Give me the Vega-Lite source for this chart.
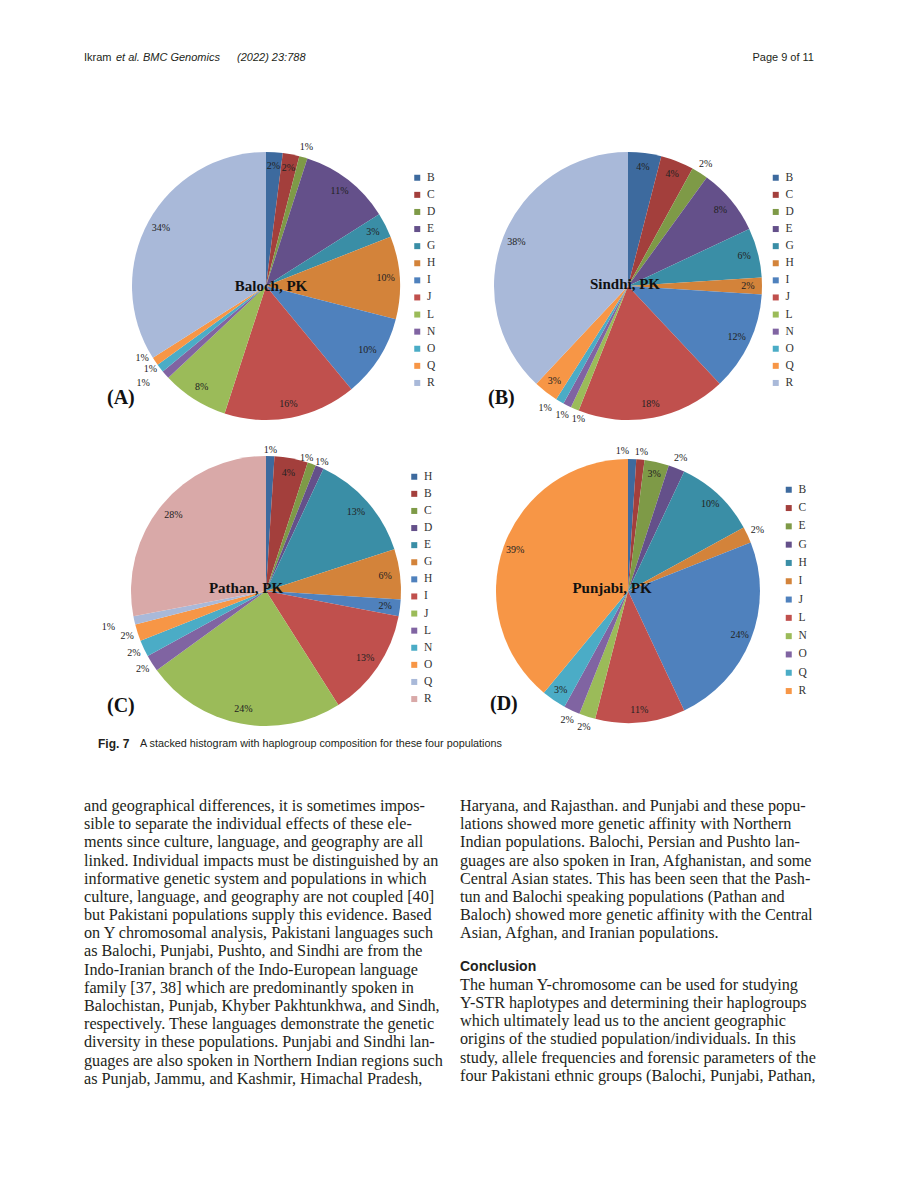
{
  "$schema": "https://vega.github.io/schema/vega-lite/v6.json",
  "background": "white",
  "padding": {"left": 84, "top": 0, "right": 0, "bottom": 0},
  "columns": 2,
  "bounds": "flush",
  "align": "each",
  "spacing": 0,
  "resolve": {"scale": {"color": "independent", "theta": "independent", "x": "independent", "y": "independent"}},
  "config": {
    "view": {"stroke": null},
    "text": {"font": "Liberation Serif", "fontSize": 10, "color": "#222"},
    "legend": {"labelFont": "Liberation Serif", "labelFontSize": 11.5, "labelColor": "#333", "symbolType": "square", "symbolSize": 36, "symbolStrokeWidth": 0, "padding": 0, "labelOffset": 4, "symbolOpacity": 1}
  },
  "datasets": {
    "baloch": [
      {"k": "B", "p": 0.02, "i": 1}, {"k": "C", "p": 0.02, "i": 2}, {"k": "D", "p": 0.01, "i": 3},
      {"k": "E", "p": 0.11, "i": 4}, {"k": "G", "p": 0.03, "i": 5}, {"k": "H", "p": 0.10, "i": 6},
      {"k": "I", "p": 0.10, "i": 7}, {"k": "J", "p": 0.16, "i": 8}, {"k": "L", "p": 0.08, "i": 9},
      {"k": "N", "p": 0.01, "i": 10}, {"k": "O", "p": 0.01, "i": 11}, {"k": "Q", "p": 0.01, "i": 12},
      {"k": "R", "p": 0.34, "i": 13}
    ],
    "sindhi": [
      {"k": "B", "p": 0.04, "i": 1}, {"k": "C", "p": 0.04, "i": 2}, {"k": "D", "p": 0.02, "i": 3},
      {"k": "E", "p": 0.08, "i": 4}, {"k": "G", "p": 0.06, "i": 5}, {"k": "H", "p": 0.02, "i": 6},
      {"k": "I", "p": 0.12, "i": 7}, {"k": "J", "p": 0.18, "i": 8}, {"k": "L", "p": 0.01, "i": 9},
      {"k": "N", "p": 0.01, "i": 10}, {"k": "O", "p": 0.01, "i": 11}, {"k": "Q", "p": 0.03, "i": 12},
      {"k": "R", "p": 0.38, "i": 13}
    ],
    "pathan": [
      {"k": "H1", "p": 0.01, "i": 1}, {"k": "B", "p": 0.04, "i": 2}, {"k": "C", "p": 0.01, "i": 3},
      {"k": "D", "p": 0.01, "i": 4}, {"k": "E", "p": 0.13, "i": 5}, {"k": "G", "p": 0.06, "i": 6},
      {"k": "H2", "p": 0.02, "i": 7}, {"k": "I", "p": 0.13, "i": 8}, {"k": "J", "p": 0.24, "i": 9},
      {"k": "L", "p": 0.02, "i": 10}, {"k": "N", "p": 0.02, "i": 11}, {"k": "O", "p": 0.02, "i": 12},
      {"k": "Q", "p": 0.01, "i": 13}, {"k": "R", "p": 0.28, "i": 14}
    ],
    "punjabi": [
      {"k": "B", "p": 0.01, "i": 1}, {"k": "C", "p": 0.01, "i": 2}, {"k": "E", "p": 0.03, "i": 3},
      {"k": "G", "p": 0.02, "i": 4}, {"k": "H", "p": 0.10, "i": 5}, {"k": "I", "p": 0.02, "i": 6},
      {"k": "J", "p": 0.24, "i": 7}, {"k": "L", "p": 0.11, "i": 8}, {"k": "N", "p": 0.02, "i": 9},
      {"k": "O", "p": 0.02, "i": 10}, {"k": "Q", "p": 0.03, "i": 11}, {"k": "R", "p": 0.39, "i": 12}
    ],
    "bodyL": [
      {"col": "L", "line": 0, "t": "and geographical differences, it is sometimes impos-"},
      {"col": "L", "line": 1, "t": "sible to separate the individual effects of these ele-"},
      {"col": "L", "line": 2, "t": "ments since culture, language, and geography are all"},
      {"col": "L", "line": 3, "t": "linked. Individual impacts must be distinguished by an"},
      {"col": "L", "line": 4, "t": "informative genetic system and populations in which"},
      {"col": "L", "line": 5, "t": "culture, language, and geography are not coupled [40]"},
      {"col": "L", "line": 6, "t": "but Pakistani populations supply this evidence. Based"},
      {"col": "L", "line": 7, "t": "on Y chromosomal analysis, Pakistani languages such"},
      {"col": "L", "line": 8, "t": "as Balochi, Punjabi, Pushto, and Sindhi are from the"},
      {"col": "L", "line": 9, "t": "Indo-Iranian branch of the Indo-European language"},
      {"col": "L", "line": 10, "t": "family [37, 38] which are predominantly spoken in"},
      {"col": "L", "line": 11, "t": "Balochistan, Punjab, Khyber Pakhtunkhwa, and Sindh,"},
      {"col": "L", "line": 12, "t": "respectively. These languages demonstrate the genetic"},
      {"col": "L", "line": 13, "t": "diversity in these populations. Punjabi and Sindhi lan-"},
      {"col": "L", "line": 14, "t": "guages are also spoken in Northern Indian regions such"},
      {"col": "L", "line": 15, "t": "as Punjab, Jammu, and Kashmir, Himachal Pradesh,"}
    ],
    "bodyR": [
      {"col": "R", "line": 0, "t": "Haryana, and Rajasthan. and Punjabi and these popu-"},
      {"col": "R", "line": 1, "t": "lations showed more genetic affinity with Northern"},
      {"col": "R", "line": 2, "t": "Indian populations. Balochi, Persian and Pushto lan-"},
      {"col": "R", "line": 3, "t": "guages are also spoken in Iran, Afghanistan, and some"},
      {"col": "R", "line": 4, "t": "Central Asian states. This has been seen that the Pash-"},
      {"col": "R", "line": 5, "t": "tun and Balochi speaking populations (Pathan and"},
      {"col": "R", "line": 6, "t": "Baloch) showed more genetic affinity with the Central"},
      {"col": "R", "line": 7, "t": "Asian, Afghan, and Iranian populations."}
    ],
    "bodyR2": [
      {"col": "R", "line": 10, "t": "The human Y-chromosome can be used for studying"},
      {"col": "R", "line": 11, "t": "Y-STR haplotypes and determining their haplogroups"},
      {"col": "R", "line": 12, "t": "which ultimately lead us to the ancient geographic"},
      {"col": "R", "line": 13, "t": "origins of the studied population/individuals. In this"},
      {"col": "R", "line": 14, "t": "study, allele frequencies and forensic parameters of the"},
      {"col": "R", "line": 15, "t": "four Pakistani ethnic groups (Balochi, Punjabi, Pathan,"}
    ]
  },
  "concat": [
    {
      "width": 364,
      "height": 116,
      "layer": [
        {
          "data": {"values": [{"col": "L", "t": "Ikram"}]},
          "mark": {"type": "text", "align": "left", "font": "Liberation Sans", "fontSize": 11, "color": "#231f20"},
          "encoding": {
            "x": {"field": "col", "type": "nominal", "scale": {"type": "point", "domain": ["L"], "padding": 0, "align": 0}, "axis": null},
            "text": {"field": "t"}
          }
        },
        {
          "data": {"values": [{"col": "L", "t": "et al. BMC Genomics"}]},
          "mark": {"type": "text", "align": "left", "font": "Liberation Sans", "fontSize": 11, "fontStyle": "italic", "color": "#231f20", "dx": 32},
          "encoding": {
            "x": {"field": "col", "type": "nominal", "scale": {"type": "point", "domain": ["L"], "padding": 0, "align": 0}, "axis": null},
            "text": {"field": "t"}
          }
        },
        {
          "data": {"values": [{"col": "L", "t": "(2022) 23:788"}]},
          "mark": {"type": "text", "align": "left", "font": "Liberation Sans", "fontSize": 11, "fontStyle": "italic", "color": "#231f20", "dx": 153},
          "encoding": {
            "x": {"field": "col", "type": "nominal", "scale": {"type": "point", "domain": ["L"], "padding": 0, "align": 0}, "axis": null},
            "text": {"field": "t"}
          }
        }
      ]
    },
    {
      "width": 360,
      "height": 116,
      "data": {"values": [{"col": "R", "t": "Page 9 of 11"}]},
      "mark": {"type": "text", "align": "right", "font": "Liberation Sans", "fontSize": 11, "color": "#231f20", "dx": 6},
      "encoding": {
        "x": {"field": "col", "type": "nominal", "scale": {"type": "point", "domain": ["R"], "padding": 0, "align": 1}, "axis": null},
        "text": {"field": "t"}
      }
    },
    {
      "width": 364,
      "height": 340,
      "data": {"name": "baloch"},
      "title": {"text": "(A)", "orient": "bottom", "anchor": "start", "frame": "group", "offset": -68, "dx": 23, "baseline": "top", "font": "Liberation Serif", "fontSize": 20, "fontWeight": "bold", "color": "#111"},
      "encoding": {
        "theta": {"field": "p", "type": "quantitative", "stack": true},
        "order": {"field": "i", "type": "quantitative"}
      },
      "layer": [
        {
          "mark": {"type": "arc", "outerRadius": 134},
          "encoding": {
            "color": {"field": "k", "type": "nominal",
              "scale": {"domain": ["B", "C", "D", "E", "G", "H", "I", "J", "L", "N", "O", "Q", "R"],
                "range": ["#3D6A9E", "#A33F3C", "#7E9A47", "#64508A", "#3A8EA6", "#D3833A", "#4F81BD", "#C0504D", "#9BBB59", "#8064A2", "#4BACC6", "#F79646", "#A9B9D9"]},
              "legend": {"title": null, "orient": "none", "legendX": 327.5, "legendY": 56, "rowPadding": 4.1, "labelExpr": "substring(datum.label, 0, 1)"}}
          }
        },
        {
          "mark": {"type": "text", "radius": 120},
          "encoding": {
            "detail": {"field": "k", "type": "nominal"},
            "text": {"field": "p", "type": "quantitative", "format": ".0%"},
            "opacity": {"condition": {"test": "datum.p > 0.015", "value": 1}, "value": 0}
          }
        },
        {
          "mark": {"type": "text", "radius": 145},
          "encoding": {
            "detail": {"field": "k", "type": "nominal"},
            "text": {"field": "p", "type": "quantitative", "format": ".0%"},
            "opacity": {"condition": {"test": "datum.k == 'D'", "value": 1}, "value": 0}
          }
        },
        {
          "mark": {"type": "text", "radius": 145, "dx": -14, "dy": 1},
          "encoding": {
            "detail": {"field": "k", "type": "nominal"},
            "text": {"field": "p", "type": "quantitative", "format": ".0%"},
            "opacity": {"condition": {"test": "datum.k == 'N'", "value": 1}, "value": 0}
          }
        },
        {
          "mark": {"type": "text", "radius": 145, "dx": -1, "dy": -6},
          "encoding": {
            "detail": {"field": "k", "type": "nominal"},
            "text": {"field": "p", "type": "quantitative", "format": ".0%"},
            "opacity": {"condition": {"test": "datum.k == 'O'", "value": 1}, "value": 0}
          }
        },
        {
          "mark": {"type": "text", "radius": 145, "dx": -4, "dy": -10},
          "encoding": {
            "detail": {"field": "k", "type": "nominal"},
            "text": {"field": "p", "type": "quantitative", "format": ".0%"},
            "opacity": {"condition": {"test": "datum.k == 'Q'", "value": 1}, "value": 0}
          }
        },
        {
          "data": {"values": [{"t": "Baloch, PK"}]},
          "mark": {"type": "text", "font": "Liberation Serif", "fontSize": 15, "fontWeight": "bold", "color": "#111", "dx": 5},
          "encoding": {"text": {"field": "t"}, "theta": null, "order": null}
        }
      ]
    },
    {
      "width": 360,
      "height": 340,
      "data": {"name": "sindhi"},
      "title": {"text": "(B)", "orient": "bottom", "anchor": "start", "frame": "group", "offset": -68, "dx": 40, "baseline": "top", "font": "Liberation Serif", "fontSize": 20, "fontWeight": "bold", "color": "#111"},
      "encoding": {
        "theta": {"field": "p", "type": "quantitative", "stack": true},
        "order": {"field": "i", "type": "quantitative"}
      },
      "layer": [
        {
          "mark": {"type": "arc", "outerRadius": 134},
          "encoding": {
            "color": {"field": "k", "type": "nominal",
              "scale": {"domain": ["B", "C", "D", "E", "G", "H", "I", "J", "L", "N", "O", "Q", "R"],
                "range": ["#3D6A9E", "#A33F3C", "#7E9A47", "#64508A", "#3A8EA6", "#D3833A", "#4F81BD", "#C0504D", "#9BBB59", "#8064A2", "#4BACC6", "#F79646", "#A9B9D9"]},
              "legend": {"title": null, "orient": "none", "legendX": 322, "legendY": 56, "rowPadding": 4.1, "labelExpr": "substring(datum.label, 0, 1)"}}
          }
        },
        {
          "mark": {"type": "text", "radius": 120},
          "encoding": {
            "detail": {"field": "k", "type": "nominal"},
            "text": {"field": "p", "type": "quantitative", "format": ".0%"},
            "opacity": {"condition": {"test": "datum.p > 0.015 && datum.k != 'D'", "value": 1}, "value": 0}
          }
        },
        {
          "mark": {"type": "text", "radius": 145},
          "encoding": {
            "detail": {"field": "k", "type": "nominal"},
            "text": {"field": "p", "type": "quantitative", "format": ".0%"},
            "opacity": {"condition": {"test": "datum.k == 'D' || datum.k == 'N'", "value": 1}, "value": 0}
          }
        },
        {
          "mark": {"type": "text", "radius": 145, "dx": 8},
          "encoding": {
            "detail": {"field": "k", "type": "nominal"},
            "text": {"field": "p", "type": "quantitative", "format": ".0%"},
            "opacity": {"condition": {"test": "datum.k == 'L'", "value": 1}, "value": 0}
          }
        },
        {
          "mark": {"type": "text", "radius": 145, "dx": -9, "dy": -3},
          "encoding": {
            "detail": {"field": "k", "type": "nominal"},
            "text": {"field": "p", "type": "quantitative", "format": ".0%"},
            "opacity": {"condition": {"test": "datum.k == 'O'", "value": 1}, "value": 0}
          }
        },
        {
          "data": {"values": [{"t": "Sindhi, PK"}]},
          "mark": {"type": "text", "font": "Liberation Serif", "fontSize": 15, "fontWeight": "bold", "color": "#111", "dx": -3, "dy": -2},
          "encoding": {"text": {"field": "t"}, "theta": null, "order": null}
        }
      ]
    },
    {
      "width": 364,
      "height": 270,
      "data": {"name": "pathan"},
      "title": {"text": "(C)", "orient": "bottom", "anchor": "start", "frame": "group", "offset": -47, "dx": 23, "baseline": "top", "font": "Liberation Serif", "fontSize": 20, "fontWeight": "bold", "color": "#111"},
      "encoding": {
        "theta": {"field": "p", "type": "quantitative", "stack": true},
        "order": {"field": "i", "type": "quantitative"}
      },
      "layer": [
        {
          "mark": {"type": "arc", "outerRadius": 135},
          "encoding": {
            "color": {"field": "k", "type": "nominal",
              "scale": {"domain": ["H1", "B", "C", "D", "E", "G", "H2", "I", "J", "L", "N", "O", "Q", "R"],
                "range": ["#3D6A9E", "#A33F3C", "#7E9A47", "#64508A", "#3A8EA6", "#D3833A", "#4F81BD", "#C0504D", "#9BBB59", "#8064A2", "#4BACC6", "#F79646", "#A9B9D9", "#D9A9A8"]},
              "legend": {"title": null, "orient": "none", "legendX": 324.5, "legendY": 15, "rowPadding": 4.1, "labelExpr": "substring(datum.label, 0, 1)"}}
          }
        },
        {
          "mark": {"type": "text", "radius": 120},
          "encoding": {
            "detail": {"field": "k", "type": "nominal"},
            "text": {"field": "p", "type": "quantitative", "format": ".0%"},
            "opacity": {"condition": {"test": "datum.p > 0.025 || datum.k == 'H2'", "value": 1}, "value": 0}
          }
        },
        {
          "mark": {"type": "text", "radius": 141},
          "encoding": {
            "detail": {"field": "k", "type": "nominal"},
            "text": {"field": "p", "type": "quantitative", "format": ".0%"},
            "opacity": {"condition": {"test": "datum.k == 'H1' || datum.k == 'D'", "value": 1}, "value": 0}
          }
        },
        {
          "mark": {"type": "text", "radius": 141, "dx": -7},
          "encoding": {
            "detail": {"field": "k", "type": "nominal"},
            "text": {"field": "p", "type": "quantitative", "format": ".0%"},
            "opacity": {"condition": {"test": "datum.k == 'C'", "value": 1}, "value": 0}
          }
        },
        {
          "mark": {"type": "text", "radius": 146},
          "encoding": {
            "detail": {"field": "k", "type": "nominal"},
            "text": {"field": "p", "type": "quantitative", "format": ".0%"},
            "opacity": {"condition": {"test": "datum.k == 'L' || datum.k == 'N' || datum.k == 'O'", "value": 1}, "value": 0}
          }
        },
        {
          "mark": {"type": "text", "radius": 146, "dx": -15, "dy": 4},
          "encoding": {
            "detail": {"field": "k", "type": "nominal"},
            "text": {"field": "p", "type": "quantitative", "format": ".0%"},
            "opacity": {"condition": {"test": "datum.k == 'Q'", "value": 1}, "value": 0}
          }
        },
        {
          "data": {"values": [{"t": "Pathan, PK"}]},
          "mark": {"type": "text", "font": "Liberation Serif", "fontSize": 15, "fontWeight": "bold", "color": "#111", "dx": -20, "dy": -3},
          "encoding": {"text": {"field": "t"}, "theta": null, "order": null}
        }
      ]
    },
    {
      "width": 360,
      "height": 270,
      "data": {"name": "punjabi"},
      "title": {"text": "(D)", "orient": "bottom", "anchor": "start", "frame": "group", "offset": -47, "dx": 42, "baseline": "top", "font": "Liberation Serif", "fontSize": 20, "fontWeight": "bold", "color": "#111"},
      "encoding": {
        "theta": {"field": "p", "type": "quantitative", "stack": true},
        "order": {"field": "i", "type": "quantitative"}
      },
      "layer": [
        {
          "mark": {"type": "arc", "outerRadius": 132},
          "encoding": {
            "color": {"field": "k", "type": "nominal",
              "scale": {"domain": ["B", "C", "E", "G", "H", "I", "J", "L", "N", "O", "Q", "R"],
                "range": ["#3D6A9E", "#A33F3C", "#7E9A47", "#64508A", "#3A8EA6", "#D3833A", "#4F81BD", "#C0504D", "#9BBB59", "#8064A2", "#4BACC6", "#F79646"]},
              "legend": {"title": null, "orient": "none", "legendX": 335, "legendY": 28, "rowPadding": 5.3, "labelExpr": "substring(datum.label, 0, 1)"}}
          }
        },
        {
          "mark": {"type": "text", "radius": 120},
          "encoding": {
            "detail": {"field": "k", "type": "nominal"},
            "text": {"field": "p", "type": "quantitative", "format": ".0%"},
            "opacity": {"condition": {"test": "datum.p > 0.025", "value": 1}, "value": 0}
          }
        },
        {
          "mark": {"type": "text", "radius": 143},
          "encoding": {
            "detail": {"field": "k", "type": "nominal"},
            "text": {"field": "p", "type": "quantitative", "format": ".0%"},
            "opacity": {"condition": {"test": "datum.p < 0.025 && datum.k != 'B' && datum.k != 'C'", "value": 1}, "value": 0}
          }
        },
        {
          "mark": {"type": "text", "radius": 143, "dx": -10, "dy": 3},
          "encoding": {
            "detail": {"field": "k", "type": "nominal"},
            "text": {"field": "p", "type": "quantitative", "format": ".0%"},
            "opacity": {"condition": {"test": "datum.k == 'B'", "value": 1}, "value": 0}
          }
        },
        {
          "mark": {"type": "text", "radius": 143, "dy": 3},
          "encoding": {
            "detail": {"field": "k", "type": "nominal"},
            "text": {"field": "p", "type": "quantitative", "format": ".0%"},
            "opacity": {"condition": {"test": "datum.k == 'C'", "value": 1}, "value": 0}
          }
        },
        {
          "data": {"values": [{"t": "Punjabi, PK"}]},
          "mark": {"type": "text", "font": "Liberation Serif", "fontSize": 15, "fontWeight": "bold", "color": "#111", "dx": -16, "dy": -3},
          "encoding": {"text": {"field": "t"}, "theta": null, "order": null}
        }
      ]
    },
    {
      "width": 364,
      "height": 36,
      "layer": [
        {
          "data": {"values": [{"col": "L", "t": "Fig. 7"}]},
          "mark": {"type": "text", "align": "left", "font": "Liberation Sans", "fontSize": 12, "fontWeight": "bold", "color": "#231f20", "dx": 14},
          "encoding": {
            "x": {"field": "col", "type": "nominal", "scale": {"type": "point", "domain": ["L"], "padding": 0, "align": 0}, "axis": null},
            "text": {"field": "t"}
          }
        },
        {
          "data": {"values": [{"col": "L", "t": "A stacked histogram with haplogroup composition for these four populations"}]},
          "mark": {"type": "text", "align": "left", "font": "Liberation Sans", "fontSize": 10.8, "color": "#231f20", "dx": 56},
          "encoding": {
            "x": {"field": "col", "type": "nominal", "scale": {"type": "point", "domain": ["L"], "padding": 0, "align": 0}, "axis": null},
            "text": {"field": "t"}
          }
        }
      ]
    },
    {
      "width": 360,
      "height": 36,
      "data": {"values": [{"col": "R", "t": ""}]},
      "mark": {"type": "text"},
      "encoding": {"text": {"field": "t"}}
    },
    {
      "width": 364,
      "height": 335,
      "data": {"name": "bodyL"},
      "mark": {"type": "text", "align": "left", "font": "Liberation Serif", "fontSize": 16.2, "color": "#231f20"},
      "encoding": {
        "x": {"field": "col", "type": "nominal", "scale": {"type": "point", "domain": ["L"], "padding": 0, "align": 0}, "axis": null},
        "y": {"field": "line", "type": "quantitative", "scale": {"domain": [-2.418, 16], "reverse": true, "nice": false, "zero": false}, "axis": null},
        "text": {"field": "t"}
      }
    },
    {
      "width": 360,
      "height": 335,
      "layer": [
        {
          "data": {"name": "bodyR"},
          "mark": {"type": "text", "align": "left", "font": "Liberation Serif", "fontSize": 16.2, "color": "#231f20", "dx": 12},
          "encoding": {
            "x": {"field": "col", "type": "nominal", "scale": {"type": "point", "domain": ["R"], "padding": 0, "align": 0}, "axis": null},
            "y": {"field": "line", "type": "quantitative", "scale": {"domain": [-2.418, 16], "reverse": true, "nice": false, "zero": false}, "axis": null},
            "text": {"field": "t"}
          }
        },
        {
          "data": {"values": [{"col": "R", "line": 9, "t": "Conclusion"}]},
          "mark": {"type": "text", "align": "left", "font": "Liberation Sans", "fontSize": 14, "fontWeight": "bold", "color": "#231f20", "dx": 12, "dy": -3},
          "encoding": {
            "x": {"field": "col", "type": "nominal", "scale": {"type": "point", "domain": ["R"], "padding": 0, "align": 0}, "axis": null},
            "y": {"field": "line", "type": "quantitative", "scale": {"domain": [-2.418, 16], "reverse": true, "nice": false, "zero": false}, "axis": null},
            "text": {"field": "t"}
          }
        },
        {
          "data": {"name": "bodyR2"},
          "mark": {"type": "text", "align": "left", "font": "Liberation Serif", "fontSize": 16.2, "color": "#231f20", "dx": 12, "dy": -3},
          "encoding": {
            "x": {"field": "col", "type": "nominal", "scale": {"type": "point", "domain": ["R"], "padding": 0, "align": 0}, "axis": null},
            "y": {"field": "line", "type": "quantitative", "scale": {"domain": [-2.418, 16], "reverse": true, "nice": false, "zero": false}, "axis": null},
            "text": {"field": "t"}
          }
        }
      ]
    }
  ]
}
